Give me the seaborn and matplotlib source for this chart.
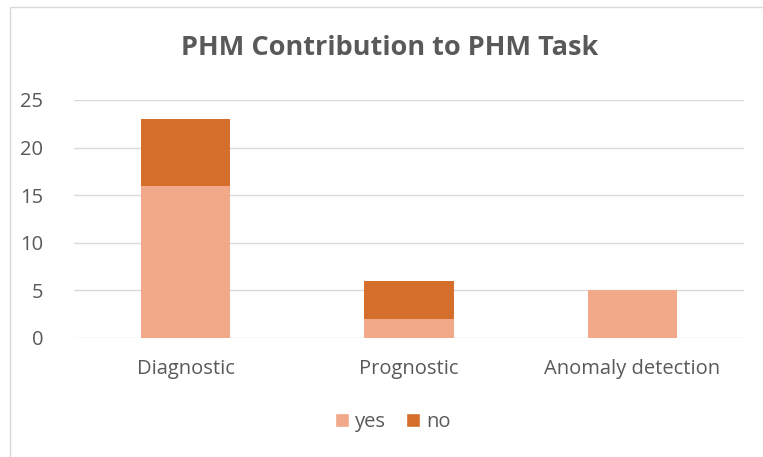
import matplotlib
matplotlib.use("Agg")
import matplotlib.pyplot as plt
import seaborn as sns
import pandas as pd
from matplotlib.patches import Patch, Rectangle

categories = ["Diagnostic", "Prognostic", "Anomaly detection"]
yes_vals = [16, 2, 5]
no_vals = [7, 4, 0]
yticks = [0, 5, 10, 15, 20, 25]

sns.set_theme(style="white")
plt.rcParams['font.family'] = ['Open Sans', 'DejaVu Sans']

c_yes = "#F1A98A"
c_no = "#D46E2A"
gray = "#595959"

df = pd.DataFrame({"cat": categories, "yes": yes_vals, "no": no_vals})
df["total"] = df["yes"] + df["no"]

fig = plt.figure(figsize=(7.63, 4.57), dpi=100)
ax = fig.add_axes([0.097, 0.2604, 0.878, 0.5208])

sns.barplot(data=df, x="cat", y="total", color=c_no, width=0.4, ax=ax, saturation=1, linewidth=0)
sns.barplot(data=df, x="cat", y="yes", color=c_yes, width=0.4, ax=ax, saturation=1, linewidth=0)

ax.set_ylim(0, 25)
ax.set_xlim(-0.5, 2.5)
ax.set_yticks(yticks)
ax.yaxis.grid(True, color="#D9D9D9", linewidth=1)
ax.set_axisbelow(True)
for s in ax.spines.values():
    s.set_visible(False)
ax.set_xlabel("")
ax.set_ylabel("")
ax.tick_params(axis="both", length=0, labelsize=14.5, colors=gray)
ax.tick_params(axis="x", pad=15)
ax.tick_params(axis="y", pad=22)
for lbl in ax.get_xticklabels() + ax.get_yticklabels():
    lbl.set_color(gray)

fig.text(0.511, 0.895, "PHM Contribution to PHM Task", ha="center", va="center",
         fontsize=19.5, fontweight="bold", color=gray)

handles = [Patch(facecolor=c_yes, label="yes"), Patch(facecolor=c_no, label="no")]
fig.legend(handles=handles, loc="center", bbox_to_anchor=(0.515, 0.077), ncol=2,
           frameon=False, fontsize=14.5, labelcolor=gray, handlelength=0.7,
           handleheight=0.7, handletextpad=0.3, columnspacing=1.0)

fig.patches.append(Rectangle((10/763, -0.1), 1.0, 1 - 7.5/457 + 0.1, transform=fig.transFigure,
                             fill=False, edgecolor="#D9D9D9", linewidth=1, figure=fig))

fig.savefig("out.png", dpi=100)
